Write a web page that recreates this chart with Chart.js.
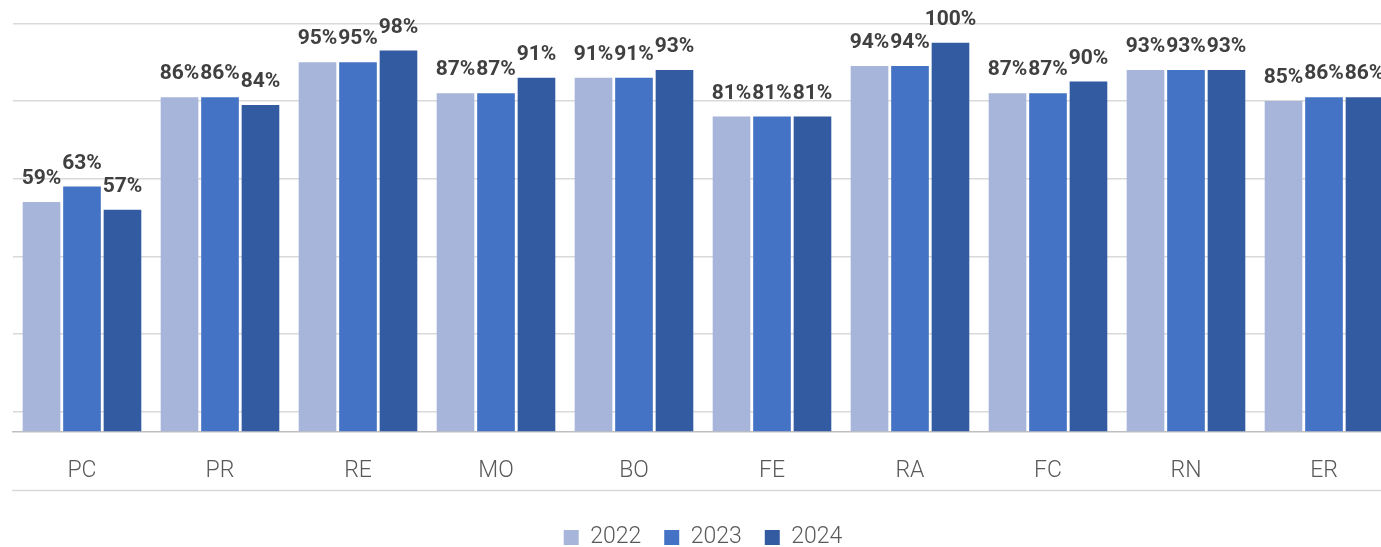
<!DOCTYPE html>
<html>
<head>
<meta charset="utf-8">
<script src="https://cdn.jsdelivr.net/npm/chart.js@4/dist/chart.umd.min.js"></script>
<style>
  html, body { margin: 0; padding: 0; background: #fff; overflow: hidden; }
  .wrap { position: relative; width: 1394px; height: 559px; }
</style>
</head>
<body>
<div class="wrap"><canvas id="chart"></canvas></div>
<script>
// data
const categories = ['PC', 'PR', 'RE', 'MO', 'BO', 'FE', 'RA', 'FC', 'RN', 'ER'];
const years = ['2022', '2023', '2024'];
const values2022 = [59, 86, 95, 87, 91, 81, 94, 87, 93, 85];
const values2023 = [63, 86, 95, 87, 91, 81, 94, 87, 93, 86];
const values2024 = [57, 84, 98, 91, 93, 81, 100, 90, 93, 86];
const gridTicks = [5, 25, 45, 65, 85, 105];

const colors = ['#a7b5da', '#4472c4', '#335ba2'];

// value labels above each bar
const barLabels = {
  id: 'barLabels',
  afterDatasetsDraw(chart) {
    const ctx = chart.ctx;
    ctx.save();
    ctx.font = 'bold 21px Roboto';
    ctx.fillStyle = '#404040';
    ctx.textAlign = 'center';
    ctx.textBaseline = 'alphabetic';
    chart.data.datasets.forEach((ds, i) => {
      chart.getDatasetMeta(i).data.forEach((bar, j) => {
        ctx.fillText(ds.data[j] + '%', bar.x, bar.y - 18);
      });
    });
    ctx.restore();
  }
};

// thin rule under the category labels
const bottomRule = {
  id: 'bottomRule',
  afterDraw(chart) {
    const ctx = chart.ctx;
    const x = chart.scales.x;
    const y = x.bottom - 12.5;
    ctx.save();
    ctx.strokeStyle = '#d9d9d9';
    ctx.lineWidth = 1.5;
    ctx.beginPath();
    ctx.moveTo(chart.chartArea.left - 1, y);
    ctx.lineTo(chart.chartArea.right, y);
    ctx.stroke();
    ctx.restore();
  }
};

const datasets = [values2022, values2023, values2024].map((vals, i) => ({
  label: years[i],
  data: vals,
  backgroundColor: colors[i],
  borderWidth: 0,
  categoryPercentage: 0.88,
  barPercentage: 0.93
}));

new Chart(document.getElementById('chart'), {
  type: 'bar',
  data: { labels: categories, datasets: datasets },
  options: {
    responsive: true,
    maintainAspectRatio: false,
    animation: false,
    layout: { padding: { left: 13, right: 1, top: 0, bottom: 0 } },
    scales: {
      x: {
        grid: { display: false, drawTicks: false },
        border: { display: true, color: '#bfbfbf', width: 1.5 },
        ticks: {
          padding: 26,
          color: '#595959',
          font: { family: 'Roboto', size: 23, weight: '300' }
        },
        afterFit(scale) { scale.height -= 8; }
      },
      y: {
        min: 0,
        max: 111,
        grid: { color: '#d9d9d9', lineWidth: 1.5, drawTicks: false },
        border: { display: false },
        ticks: { display: false },
        afterBuildTicks(scale) {
          scale.ticks = gridTicks.map(v => ({ value: v }));
        }
      }
    },
    plugins: {
      legend: {
        position: 'bottom',
        labels: {
          boxWidth: 15,
          boxHeight: 15,
          padding: 23,
          color: '#595959',
          font: { family: 'Roboto', size: 23, weight: '300' }
        }
      },
      tooltip: { enabled: false }
    }
  },
  plugins: [barLabels, bottomRule]
});
</script>
</body>
</html>
